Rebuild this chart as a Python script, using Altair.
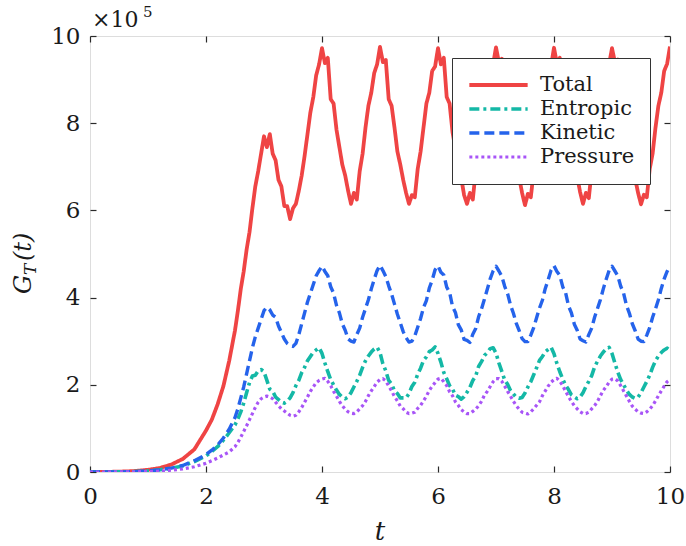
import altair as alt
import pandas as pd

FONT = "DejaVu Serif"

names = ["Total", "Entropic", "Kinetic", "Pressure"]
colors = ["#EF4444", "#14B8A6", "#2563EB", "#A855F7"]

t_early = [0, 0.25, 0.5, 0.75, 1.0, 1.2, 1.4, 1.6, 1.8, 2.0, 2.1, 2.2, 2.3, 2.4]
t_main = [round(2.5 + 0.05 * i, 2) for i in range(151)]
t_vals = t_early + t_main

total = [
    0, 0.002, 0.008, 0.02, 0.05, 0.09, 0.17, 0.3, 0.52, 0.95, 1.2, 1.55, 1.97, 2.55,
    3.25, 3.7, 4.2, 4.6, 5.1, 5.5, 6.05, 6.55, 6.9, 7.3,
    7.7, 7.45, 7.75, 7.3, 7.15, 6.7, 6.55, 6.1, 6.1, 5.8,
    6.05, 6.15, 6.45, 6.8, 7.25, 7.75, 8.25, 8.6, 9.1, 9.35,
    9.72, 9.38, 9.5, 8.55, 8.45, 7.85, 7.45, 7.05, 6.8, 6.45, 6.15, 6.4, 6.25, 6.9, 7.3, 7.9, 8.4, 8.7, 9.15, 9.35,
    9.75, 9.4, 9.45, 8.55, 8.4, 7.9, 7.35, 7.05, 6.7, 6.4, 6.15, 6.35, 6.3, 6.95, 7.35, 7.9, 8.45, 8.7, 9.2, 9.3,
    9.72, 9.35, 9.5, 8.6, 8.45, 7.8, 7.4, 7.0, 6.75, 6.35, 6.15, 6.4, 6.25, 6.9, 7.3, 7.95, 8.4, 8.75, 9.15, 9.35,
    9.74, 9.4, 9.48, 8.55, 8.45, 7.85, 7.4, 7.05, 6.75, 6.4, 6.12, 6.38, 6.3, 6.9, 7.35, 7.9, 8.4, 8.7, 9.2, 9.32,
    9.73, 9.37, 9.5, 8.6, 8.42, 7.85, 7.38, 7.02, 6.78, 6.42, 6.15, 6.4, 6.28, 6.92, 7.32, 7.92, 8.42, 8.72, 9.18, 9.35,
    9.72, 9.4, 9.46, 8.55, 8.45, 7.88, 7.4, 7.05, 6.72, 6.4, 6.14, 6.36, 6.3, 6.95, 7.3, 7.9, 8.4, 8.7, 9.2, 9.36,
    9.76,
]

entropic = [
    0, 0, 0.002, 0.008, 0.025, 0.05, 0.085, 0.14, 0.24, 0.37, 0.47, 0.58, 0.73, 0.9,
    1.08, 1.22, 1.38, 1.58, 1.82, 2.05, 2.2, 2.22, 2.32, 2.35,
    2.3, 2.1, 1.9, 1.85, 1.72, 1.66, 1.6, 1.58, 1.62, 1.7,
    1.82, 1.98, 2.1, 2.28, 2.4, 2.55, 2.65, 2.75, 2.8, 2.85,
    2.72, 2.5, 2.3, 2.12, 2.0, 1.88, 1.78, 1.72, 1.68, 1.72, 1.82, 1.95, 2.08, 2.22, 2.4, 2.55, 2.66, 2.75, 2.82, 2.86,
    2.74, 2.48, 2.32, 2.1, 2.02, 1.86, 1.8, 1.7, 1.7, 1.7, 1.8, 1.96, 2.06, 2.24, 2.38, 2.56, 2.64, 2.76, 2.8, 2.87,
    2.72, 2.52, 2.28, 2.14, 1.98, 1.9, 1.76, 1.73, 1.67, 1.73, 1.83, 1.94, 2.1, 2.2, 2.42, 2.53, 2.67, 2.74, 2.83, 2.85,
    2.73, 2.5, 2.31, 2.11, 2.01, 1.87, 1.79, 1.71, 1.69, 1.71, 1.81, 1.95, 2.07, 2.23, 2.39, 2.56, 2.65, 2.76, 2.81, 2.86,
    2.71, 2.49, 2.3, 2.13, 1.99, 1.89, 1.77, 1.72, 1.68, 1.72, 1.82, 1.96, 2.08, 2.21, 2.41, 2.54, 2.66, 2.75, 2.82, 2.86,
    2.72, 2.5, 2.29, 2.12, 2.0, 1.88, 1.78, 1.72, 1.69, 1.72, 1.82, 1.95, 2.08, 2.22, 2.4, 2.55, 2.66, 2.74, 2.8, 2.84,
    2.78,
]

kinetic = [
    0, 0, 0.002, 0.008, 0.025, 0.05, 0.09, 0.15, 0.26, 0.4, 0.5, 0.62, 0.78, 0.98,
    1.25, 1.45, 1.7, 1.95, 2.25, 2.55, 2.85, 3.1, 3.3, 3.5,
    3.7, 3.78, 3.72, 3.6, 3.55, 3.35, 3.2, 3.05, 2.95, 2.9,
    2.88, 2.95, 3.15, 3.4, 3.65, 3.9, 4.1, 4.3, 4.5, 4.62,
    4.72, 4.6, 4.5, 4.25, 4.1, 3.82, 3.65, 3.4, 3.25, 3.05, 3.0, 2.98, 3.15, 3.3, 3.55, 3.75, 3.95, 4.2, 4.42, 4.62,
    4.74, 4.62, 4.48, 4.27, 4.08, 3.85, 3.62, 3.42, 3.22, 3.08, 2.98, 3.0, 3.12, 3.32, 3.52, 3.77, 3.93, 4.22, 4.4, 4.64,
    4.73, 4.58, 4.52, 4.24, 4.12, 3.8, 3.66, 3.38, 3.26, 3.04, 3.02, 2.97, 3.16, 3.29, 3.56, 3.74, 3.96, 4.19, 4.43, 4.61,
    4.72, 4.61, 4.49, 4.26, 4.09, 3.83, 3.64, 3.41, 3.24, 3.06, 2.99, 2.99, 3.14, 3.31, 3.54, 3.76, 3.94, 4.21, 4.41, 4.63,
    4.73, 4.6, 4.51, 4.25, 4.11, 3.81, 3.65, 3.39, 3.25, 3.05, 3.01, 2.98, 3.15, 3.3, 3.55, 3.75, 3.95, 4.2, 4.42, 4.62,
    4.72, 4.61, 4.5, 4.26, 4.1, 3.82, 3.64, 3.4, 3.24, 3.05, 3.0, 2.99, 3.14, 3.31, 3.55, 3.74, 3.95, 4.21, 4.43, 4.6,
    4.73,
]

pressure = [
    0, 0, 0.001, 0.004, 0.01, 0.02, 0.04, 0.07, 0.12, 0.2, 0.26, 0.32, 0.39, 0.46,
    0.58, 0.68, 0.8, 0.93, 1.06, 1.2, 1.34, 1.48, 1.6, 1.68,
    1.72, 1.74, 1.72, 1.68, 1.6, 1.52, 1.45, 1.4, 1.35, 1.3,
    1.28, 1.3, 1.38, 1.48, 1.6, 1.72, 1.85, 1.95, 2.05, 2.1,
    2.13, 2.15, 2.08, 1.98, 1.85, 1.74, 1.62, 1.52, 1.44, 1.38, 1.35, 1.34, 1.38, 1.45, 1.52, 1.62, 1.75, 1.86, 1.96, 2.06,
    2.12, 2.14, 2.09, 1.97, 1.86, 1.73, 1.63, 1.51, 1.45, 1.37, 1.34, 1.35, 1.37, 1.46, 1.53, 1.63, 1.74, 1.87, 1.97, 2.05,
    2.13, 2.15, 2.07, 1.98, 1.84, 1.75, 1.61, 1.53, 1.43, 1.38, 1.34, 1.34, 1.39, 1.44, 1.52, 1.62, 1.76, 1.85, 1.96, 2.07,
    2.14, 2.14, 2.08, 1.97, 1.85, 1.74, 1.62, 1.52, 1.44, 1.37, 1.35, 1.33, 1.38, 1.45, 1.53, 1.61, 1.75, 1.86, 1.97, 2.06,
    2.12, 2.15, 2.08, 1.98, 1.85, 1.73, 1.62, 1.52, 1.45, 1.38, 1.34, 1.34, 1.37, 1.45, 1.52, 1.62, 1.75, 1.87, 1.96, 2.06,
    2.13, 2.14, 2.09, 1.98, 1.86, 1.74, 1.62, 1.51, 1.44, 1.38, 1.35, 1.34, 1.38, 1.44, 1.52, 1.63, 1.75, 1.86, 1.97, 2.07,
    2.12,
]

series_values = {"Total": total, "Entropic": entropic, "Kinetic": kinetic, "Pressure": pressure}

rows = []
for name in names:
    for t, v in zip(t_vals, series_values[name]):
        rows.append({"t": t, "v": v, "series": name})
df = pd.DataFrame(rows)

tick_vals = [0, 2, 4, 6, 8, 10]
xscale = alt.Scale(domain=[0, 10], nice=False, zero=False)
yscale = alt.Scale(domain=[0, 10], nice=False, zero=False)

axis_common = dict(
    values=tick_vals, offset=-6, tickSize=6, tickWidth=1.2, tickColor="#2a2a2a",
    domain=False, grid=False, title=None, labelFont=FONT, labelFontSize=23,
    labelColor="#1a1a1a", labelFlush=False, labelOverlap=False,
)

legend = alt.Legend(
    orient="none", legendX=362, legendY=22, title=None,
    fillColor="white", strokeColor="#333333", padding=15,
    symbolType="stroke", symbolSize=3400, symbolStrokeWidth=3.2,
    labelFont=FONT, labelFontSize=21, labelColor="#1a1a1a",
    labelOffset=10, rowPadding=0, clipHeight=24, cornerRadius=0,
)

lines = alt.Chart(df).mark_line(strokeJoin="round", clip=True).encode(
    x=alt.X("t:Q", scale=xscale,
            axis=alt.Axis(orient="bottom", labelPadding=13, labelAngle=0, **axis_common)),
    y=alt.Y("v:Q", scale=yscale,
            axis=alt.Axis(orient="left", labelPadding=10, **axis_common)),
    color=alt.Color("series:N", scale=alt.Scale(domain=names, range=colors), legend=legend),
    strokeDash=alt.StrokeDash(
        "series:N",
        scale=alt.Scale(domain=names, range=[[1, 0], [10, 4, 3, 4], [10, 5], [3, 3]]),
        legend=legend,
    ),
    strokeWidth=alt.StrokeWidth(
        "series:N", scale=alt.Scale(domain=names, range=[3.8, 3.2, 3.2, 3.2]), legend=None
    ),
)

mirror_common = dict(axis_common)
mirror_common["labels"] = False
ticks = alt.Chart(df).mark_point(opacity=0, size=1).encode(
    x=alt.X("t:Q", scale=xscale, axis=alt.Axis(orient="top", **mirror_common)),
    y=alt.Y("v:Q", scale=yscale, axis=alt.Axis(orient="right", **mirror_common)),
)

one = pd.DataFrame({"a": [0]})


def txt(text, x, y, size, style="normal", angle=0, align="left"):
    return alt.Chart(one).mark_text(
        text=text, font=FONT, fontSize=size, fontStyle=style, angle=angle,
        align=align, baseline="alphabetic", color="#1a1a1a",
    ).encode(x=alt.value(x), y=alt.value(y))


texts = [
    txt("×10", 2, -9, 22),
    txt("5", 53, -19, 15),
    txt("G", -59, 258, 24, "italic", 270),
    txt("T", -54, 239, 17, "italic", 270),
    txt("(t)", -59, 225, 24, "italic", 270),
    txt("t", 290, 504, 26, "italic", 0, "center"),
]

chart = alt.layer(lines, ticks, *texts).resolve_axis(
    x="independent", y="independent"
).properties(
    width=580, height=436,
    padding={"left": 90, "top": 36, "right": 16, "bottom": 74},
    autosize=alt.AutoSizeParams(type="none"),
).configure_view(stroke="#262626", strokeWidth=1.3).configure(background="white")

chart.save("out.html", embed_options={"renderer": "svg", "actions": False})
